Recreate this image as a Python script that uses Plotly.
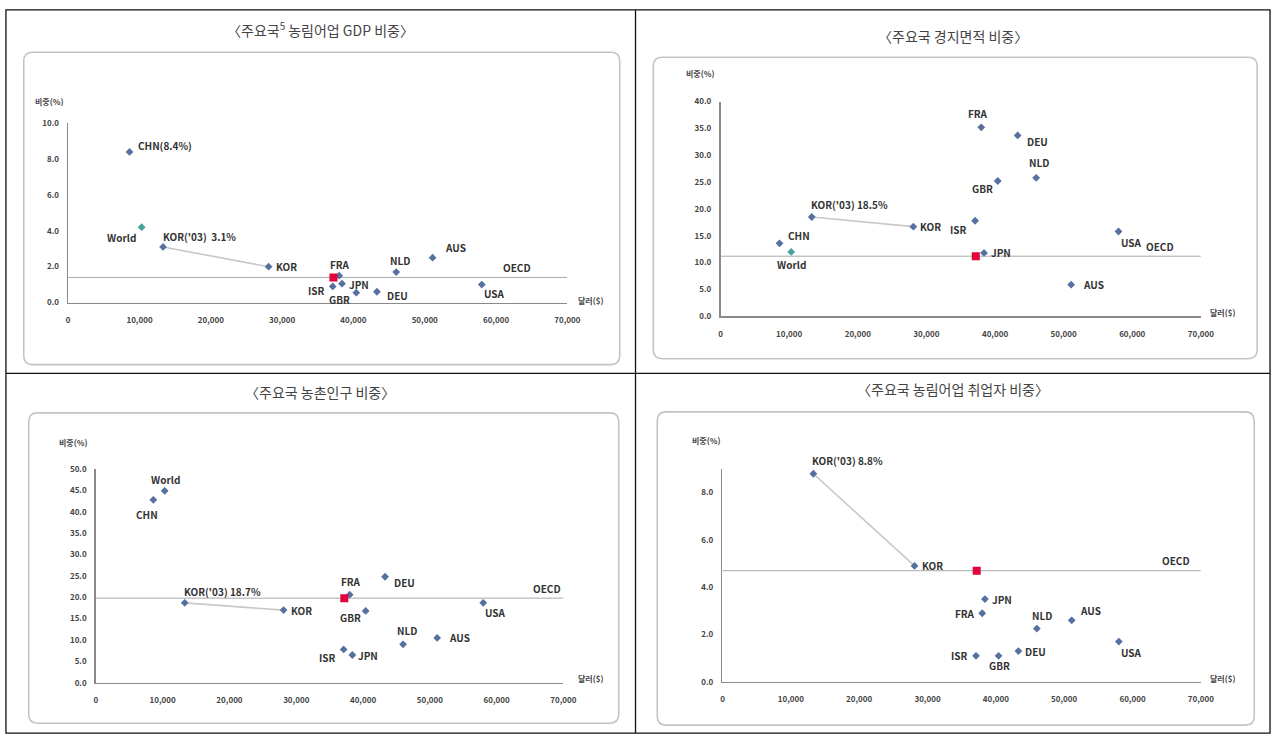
import plotly.graph_objects as go

W, H = 1286, 741

# ---------------- data ----------------
countries = ["CHN", "World", "KOR('03)", "KOR", "FRA", "JPN", "ISR", "GBR", "DEU", "NLD", "AUS", "USA"]
gdp_per_capita = [8600, 10300, 13300, 28100, 38000, 38400, 37100, 40400, 43300, 46000, 51100, 58000]
oecd_gdp_per_capita = 37200

gdp_share = [8.4, 4.2, 3.1, 2.0, 1.5, 1.05, 0.9, 0.55, 0.6, 1.7, 2.5, 1.0]
oecd_gdp_share = 1.4

arable_share = [13.6, 12.0, 18.5, 16.7, 35.2, 11.8, 17.8, 25.2, 33.7, 25.8, 5.9, 15.8]
oecd_arable_share = 11.2

rural_share = [42.8, 44.9, 18.7, 17.0, 20.6, 6.5, 7.8, 16.8, 24.8, 9.0, 10.5, 18.7]
oecd_rural_share = 19.8

employ_share = [None, None, 8.8, 4.9, 2.9, 3.5, 1.1, 1.1, 1.3, 2.25, 2.6, 1.7]
oecd_employ_share = 4.7

titles = [
    "〈주요국<sup>5</sup> 농림어업 GDP 비중〉",
    "〈주요국 경지면적 비중〉",
    "〈주요국 농촌인구 비중〉",
    "〈주요국 농림어업 취업자 비중〉",
]
x_ticks = [0, 10000, 20000, 30000, 40000, 50000, 60000, 70000]
y_label = "비중(%)"
x_label = "달러($)"

# ---------------- style / layout ----------------
FONT = "Noto Sans CJK KR"
PT_COLOR = "#56709F"
WORLD_TEAL = "#45A39B"
LBL_COLOR = "#333333"

def px(x):
    return x / W

def py(y):
    return 1 - y / H

panels = [
    dict(vals=gdp_share, oecd=oecd_gdp_share, ymax=10, dtick=2,
         xd=(67, 572), yd=(119, 301), box=(22, 47, 625, 364), title_xy=(322, 24),
         ylab_xy=(48, 97), xlab_xy=(596, 299), oecd_lab_x=63000,
         world_color=WORLD_TEAL,
         fmt={"CHN": "CHN({v}%)", "KOR('03)": "KOR('03)  {v}%"},
         pos={"CHN": ("l", 6, 6), "World": ("r", -4, -10), "KOR('03)": ("l", -2, 10),
              "KOR": ("l", 5, 0), "FRA": ("c", 1, 11), "JPN": ("l", 5, -1),
              "ISR": ("r", -6, -4), "GBR": ("r", -4, -7), "DEU": ("l", 8, -4),
              "NLD": ("c", 4, 12), "AUS": ("l", 10, 10), "USA": ("l", 0, -9)}),
    dict(vals=arable_share, oecd=oecd_arable_share, ymax=40, dtick=5,
         xd=(727, 1213), yd=(97, 315), box=(659, 52, 1270, 358), title_xy=(962, 30),
         ylab_xy=(706, 69), xlab_xy=(1235, 311), oecd_lab_x=64000,
         world_color=WORLD_TEAL,
         fmt={"KOR('03)": "KOR('03) {v}%"},
         pos={"CHN": ("l", 6, 8), "World": ("c", 0, -13), "KOR('03)": ("l", -3, 13),
              "KOR": ("l", 5, 0), "FRA": ("c", -3, 14), "JPN": ("l", 5, 0),
              "ISR": ("r", -6, -9), "GBR": ("r", -3, -7), "DEU": ("l", 7, -6),
              "NLD": ("c", 3, 15), "AUS": ("l", 10, 0), "USA": ("l", 0, -11)}),
    dict(vals=rural_share, oecd=oecd_rural_share, ymax=50, dtick=5,
         xd=(95, 568), yd=(470, 687), box=(27, 413, 624, 728), title_xy=(322, 392),
         ylab_xy=(72, 443), xlab_xy=(596, 683), oecd_lab_x=67500,
         world_color=PT_COLOR,
         fmt={"KOR('03)": "KOR('03) {v}%"},
         pos={"CHN": ("c", -6, -15), "World": ("c", 1, 11), "KOR('03)": ("l", -3, 11),
              "KOR": ("l", 5, 0), "FRA": ("c", 1, 13), "JPN": ("l", 4, 0),
              "ISR": ("r", -6, -8), "GBR": ("r", -3, -7), "DEU": ("l", 7, -6),
              "NLD": ("c", 4, 14), "AUS": ("l", 10, 0), "USA": ("l", 0, -10)}),
    dict(vals=employ_share, oecd=oecd_employ_share, ymax=9, dtick=2,
         xd=(729, 1213), yd=(470, 686), box=(663, 412, 1267, 730), title_xy=(962, 389),
         ylab_xy=(712, 441), xlab_xy=(1235, 683), oecd_lab_x=66400,
         world_color=PT_COLOR,
         fmt={"KOR('03)": "KOR('03) {v}%"},
         pos={"KOR('03)": ("l", -3, 13), "KOR": ("l", 5, 0), "FRA": ("r", -5, 0),
              "JPN": ("l", 5, 0), "ISR": ("r", -6, 0), "GBR": ("c", 1, -10),
              "DEU": ("l", 5, 0), "NLD": ("c", 5, 13), "AUS": ("l", 6, 10),
              "USA": ("l", 0, -11)}),
]

fig = go.Figure()
annotations = []
shapes = []

def rrect(x0, y0, x1, y1, r=9):
    pts = [
        ("M", (x0 + r, y0)), ("L", (x1 - r, y0)), ("Q", (x1, y0), (x1, y0 + r)),
        ("L", (x1, y1 - r)), ("Q", (x1, y1), (x1 - r, y1)), ("L", (x0 + r, y1)),
        ("Q", (x0, y1), (x0, y1 - r)), ("L", (x0, y0 + r)), ("Q", (x0, y0), (x0 + r, y0)),
    ]
    s = ""
    for p in pts:
        s += p[0] + " " + " ".join(f"{px(a):.5f},{py(b):.5f}" for a, b in p[1:]) + " "
    return s + "Z"

# frame borders
shapes.append(dict(type="rect", xref="paper", yref="paper", x0=px(4), x1=px(1283),
                   y0=py(738), y1=py(4), line=dict(color="#111111", width=1.3)))
shapes.append(dict(type="line", xref="paper", yref="paper", x0=px(641), x1=px(641),
                   y0=py(738), y1=py(4), line=dict(color="#111111", width=1.3)))
shapes.append(dict(type="line", xref="paper", yref="paper", x0=px(4), x1=px(1283),
                   y0=py(373), y1=py(373), line=dict(color="#111111", width=1.3)))

for i, p in enumerate(panels):
    n = i + 1
    xa = "x" if n == 1 else f"x{n}"
    ya = "y" if n == 1 else f"y{n}"
    xkey = "xaxis" if n == 1 else f"xaxis{n}"
    ykey = "yaxis" if n == 1 else f"yaxis{n}"

    shapes.append(dict(type="path", xref="paper", yref="paper", path=rrect(*p["box"]),
                       line=dict(color="#C4C4C4", width=1.6), layer="below"))

    # OECD average line
    fig.add_trace(go.Scatter(x=[x_ticks[0], x_ticks[-1]], y=[p["oecd"], p["oecd"]], mode="lines",
                             line=dict(color="#A9A9A9", width=1), xaxis=xa, yaxis=ya,
                             hoverinfo="skip", showlegend=False))
    # KOR('03) -> KOR connecting line
    i03, ik = countries.index("KOR('03)"), countries.index("KOR")
    fig.add_trace(go.Scatter(x=[gdp_per_capita[i03], gdp_per_capita[ik]],
                             y=[p["vals"][i03], p["vals"][ik]], mode="lines",
                             line=dict(color="#C8C8C8", width=1.6), xaxis=xa, yaxis=ya,
                             hoverinfo="skip", showlegend=False))

    xs, ys, cols, names = [], [], [], []
    for c, gx, v in zip(countries, gdp_per_capita, p["vals"]):
        if v is None:
            continue
        xs.append(gx); ys.append(v); names.append(c)
        cols.append(p["world_color"] if c == "World" else PT_COLOR)
    fig.add_trace(go.Scatter(x=xs, y=ys, mode="markers", hovertext=names,
                             marker=dict(color=cols, size=6, symbol="diamond"),
                             xaxis=xa, yaxis=ya, showlegend=False))
    # OECD marker
    fig.add_trace(go.Scatter(x=[oecd_gdp_per_capita], y=[p["oecd"]], mode="markers",
                             marker=dict(color="#E3003B", size=8, symbol="square"),
                             xaxis=xa, yaxis=ya, showlegend=False))

    # labels
    for c, gx, v in zip(countries, gdp_per_capita, p["vals"]):
        if v is None:
            continue
        anc, dx, dy = p["pos"][c]
        txt = p["fmt"].get(c, c).format(v=v)
        annotations.append(dict(x=gx, y=v, xref=xa, yref=ya, text=txt, showarrow=False,
                                xanchor={"l": "left", "r": "right", "c": "center"}[anc],
                                yanchor="middle", xshift=dx, yshift=dy,
                                font=dict(family=FONT, size=10, color=LBL_COLOR, weight="bold")))
    annotations.append(dict(x=p["oecd_lab_x"], y=p["oecd"], xref=xa, yref=ya, text="OECD",
                            showarrow=False, xanchor="center", yanchor="middle", yshift=10,
                            font=dict(family=FONT, size=10, color=LBL_COLOR, weight="bold")))

    # titles / axis labels
    tx, ty = p["title_xy"]
    annotations.append(dict(x=px(tx), y=py(ty), xref="paper", yref="paper", text=titles[i],
                            showarrow=False, xanchor="center", yanchor="middle",
                            font=dict(family=FONT, size=14, color="#444444")))
    lx, ly = p["ylab_xy"]
    annotations.append(dict(x=px(lx), y=py(ly), xref="paper", yref="paper", text=y_label,
                            showarrow=False, xanchor="center", yanchor="middle",
                            font=dict(family=FONT, size=8, color="#444444", weight="bold")))
    lx, ly = p["xlab_xy"]
    annotations.append(dict(x=px(lx), y=py(ly), xref="paper", yref="paper", text=x_label,
                            showarrow=False, xanchor="center", yanchor="middle",
                            font=dict(family=FONT, size=8, color="#444444", weight="bold")))

    yt = [k * p["dtick"] for k in range(int(p["ymax"] // p["dtick"]) + 1)]
    fig.layout[xkey] = dict(domain=[px(p["xd"][0]), px(p["xd"][1])], range=[0, 70000],
                            anchor=ya, showline=True, linecolor="#8A8A8A", linewidth=1.6,
                            showgrid=False, zeroline=False, ticks="",
                            tickvals=x_ticks, ticktext=[f"{t:,}" for t in x_ticks],
                            ticklabelstandoff=9,
                            tickfont=dict(family=FONT, size=8, color="#444444", weight="bold"),
                            fixedrange=True)
    fig.layout[ykey] = dict(domain=[py(p["yd"][1]), py(p["yd"][0])], range=[0, p["ymax"]],
                            anchor=xa, showline=True, linecolor="#8A8A8A", linewidth=1.6,
                            showgrid=False, zeroline=False, ticks="",
                            tickvals=yt, ticktext=[f"{t:.1f}" for t in yt],
                            ticklabelstandoff=6,
                            tickfont=dict(family=FONT, size=8, color="#444444", weight="bold"),
                            fixedrange=True)

fig.update_layout(width=W, height=H, autosize=False, margin=dict(l=0, r=0, t=0, b=0),
                  paper_bgcolor="white", plot_bgcolor="rgba(0,0,0,0)",
                  shapes=shapes, annotations=annotations, showlegend=False,
                  font=dict(family=FONT))

page_fix = (
    "document.documentElement.style.margin='0';document.body.style.margin='0';"
    "document.documentElement.style.overflow='hidden';document.body.style.overflow='hidden';"
    "var d=document.getElementById('{plot_id}');"
    "d.style.position='fixed';d.style.left='0px';d.style.top='0px';"
)
fig.write_html("out.html", config={"displayModeBar": False, "staticPlot": True},
               post_script=page_fix)
